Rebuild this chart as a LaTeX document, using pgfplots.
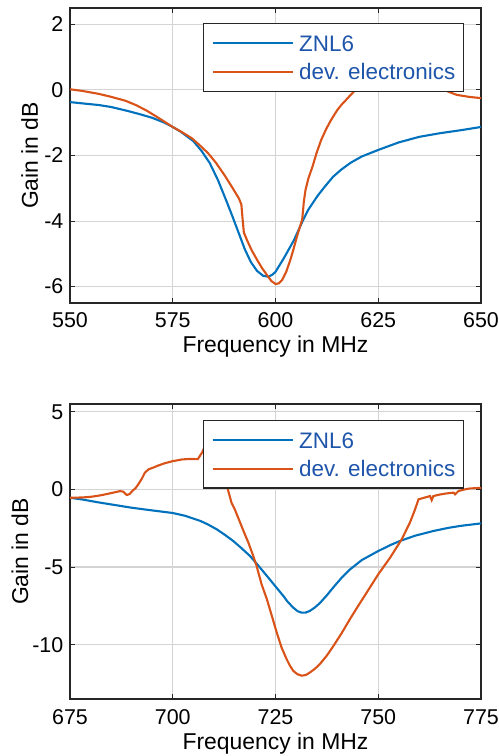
\documentclass[border=0pt]{standalone}
\usepackage{fontspec}
\setmainfont{Liberation Sans}
\usepackage{pgfplots}
\pgfplotsset{compat=1.18}

\definecolor{mblue}{RGB}{0,114,189}
\definecolor{morange}{RGB}{217,83,25}
\definecolor{legtext}{RGB}{30,85,170}
\definecolor{axgray}{RGB}{38,38,38}
\definecolor{gridgray}{RGB}{212,212,212}

\newcommand{\tickfont}{\fontsize{21.5}{26}\selectfont}
\newcommand{\labfont}{\fontsize{23}{28}\selectfont}
\newcommand{\legfont}{\fontsize{22.5}{27}\selectfont}

\pgfplotsset{
 mystyle/.style={
  scale only axis, width=411bp, height=295bp,
  axis line style={axgray, line width=1.2bp},
  tick style={axgray, line width=1bp},
  major tick length=5bp,
  tick align=inside,
  grid=major,
  major grid style={gridgray, line width=1.1bp},
  tick label style={font=\tickfont, text=black},
  xticklabel style={anchor=base, yshift=-25bp},
  yticklabel style={anchor=east, inner sep=0pt, xshift=-6.5bp},
  label style={font=\labfont},
  xlabel style={at={(axis description cs:0.5,0)}, anchor=base, yshift=-50bp},
  legend cell align=left,
  legend image code/.code={\draw[##1] (0bp,0bp) -- (80bp,0bp);},
  legend style={anchor=north east, draw=axgray, line width=1.3bp, fill=white,
    inner xsep=8bp, inner ysep=11.5bp, font=\legfont, text=legtext,
    row sep=12.5bp, column sep=5.5bp,
    nodes={inner sep=0pt, text height=16bp, text depth=0bp}},
 },
 blueline/.style={mblue, line width=2.1bp},
 orangeline/.style={morange, line width=2.1bp},
}

\begin{document}
\begin{tikzpicture}
\useasboundingbox (0,0) rectangle (499bp,756bp);
% ---------------- top axis ----------------
\begin{axis}[mystyle, at={(70bp,453bp)}, anchor=south west,
  xmin=550, xmax=650, ymin=-6.5, ymax=2.5,
  xtick={550,575,600,625,650}, xticklabels={550,575,600,625,650},
  ytick={-6,-4,-2,0,2}, yticklabels={-6,-4,-2,0,2},
  xlabel={Frequency in MHz}, ylabel={Gain in dB},
  ylabel style={at={(axis description cs:-0.0779,0.5)}, anchor=base, rotate=0},
  legend style={at={(0.9586,0.949)}}]
\addplot[blueline] coordinates {
(550,-0.37) (553,-0.41) (557,-0.46) (560,-0.52) (564,-0.64) (567,-0.74)
(570,-0.85) (573,-1.00) (575,-1.13) (577,-1.28) (580,-1.56) (582,-1.86)
(584,-2.23) (586,-2.75) (588,-3.37) (589.5,-3.85) (591,-4.35) (592.5,-4.85)
(594,-5.25) (595.5,-5.52) (597,-5.67) (598.3,-5.70) (599.3,-5.63) (600,-5.55)
(602,-5.14) (604.5,-4.58) (606.6,-4.00) (608,-3.65) (610.3,-3.22) (612,-2.95)
(614,-2.65) (616,-2.43) (618.3,-2.22) (621,-2.03) (625,-1.83) (630,-1.60)
(635,-1.43) (640,-1.32) (645,-1.23) (650,-1.13)
};
\addlegendentry{ZNL6}
\addplot[orangeline] coordinates {
(550,0.02) (553,-0.03) (557,-0.12) (560,-0.21) (563.5,-0.33) (566,-0.46)
(568.5,-0.62) (571,-0.81) (573,-0.97) (575,-1.13) (577,-1.27) (579.6,-1.47)
(581.5,-1.68) (583.6,-1.93) (585.5,-2.22) (587.7,-2.62) (589.5,-2.98)
(591.1,-3.31) (591.7,-3.50) (592.0,-3.95) (592.3,-4.35) (593.2,-4.62)
(594.2,-4.89) (595.5,-5.18) (596.8,-5.45) (598,-5.66) (599,-5.83) (600,-5.92)
(600.8,-5.90) (601.6,-5.80) (602.6,-5.55) (603.6,-5.19) (604.4,-4.85)
(605.2,-4.48) (606,-4.15) (606.5,-3.95) (606.9,-3.40) (607.3,-3.05)
(608,-2.70) (609,-2.34) (610,-1.92) (611.1,-1.53) (612.3,-1.20) (613.5,-0.92)
(615,-0.62) (616,-0.46) (617.2,-0.30) (618.3,-0.15) (620,0.07) (622,0.32)
(625,0.55) (628,0.68) (631,0.65) (634,0.50) (637,0.32) (640.4,0.07)
(642,-0.05) (644.1,-0.15) (647,-0.21) (650,-0.25)
};
\addlegendentry{dev. electronics}
\end{axis}
% ---------------- bottom axis ----------------
\begin{axis}[mystyle, at={(70bp,57bp)}, anchor=south west,
  xmin=675, xmax=775, ymin=-13.5, ymax=5.5,
  xtick={675,700,725,750,775}, xticklabels={675,700,725,750,775},
  ytick={-10,-5,0,5}, yticklabels={-10,-5,0,5},
  xlabel={Frequency in MHz}, ylabel={Gain in dB},
  ylabel style={at={(axis description cs:-0.102,0.5)}, anchor=base, rotate=0},
  legend style={at={(0.9586,0.946)}}]
\addplot[blueline] coordinates {
(675,-0.54) (678,-0.65) (682,-0.84) (686,-1.01) (690,-1.18) (694,-1.32)
(697,-1.42) (700,-1.52) (703,-1.70) (706.6,-2.02) (708.5,-2.25) (710.7,-2.57)
(712.7,-2.93) (714.7,-3.32) (716.7,-3.78) (718.8,-4.29) (720.8,-4.90)
(722.9,-5.57) (725,-6.25) (726.9,-6.86) (728,-7.25) (729.3,-7.61)
(730.4,-7.85) (731.4,-7.94) (732.4,-7.93) (733.4,-7.82) (734.6,-7.60)
(735.8,-7.32) (737.5,-6.82) (739.1,-6.30) (741,-5.72) (743.1,-5.16)
(746,-4.55) (750,-3.97) (753,-3.58) (755.3,-3.32) (759,-2.98) (763.4,-2.68)
(767,-2.48) (770,-2.35) (775,-2.19)
};
\addlegendentry{ZNL6}
\addplot[orangeline] coordinates {
(675,-0.54) (678,-0.52) (680.3,-0.47) (682.5,-0.38) (684.3,-0.28) (686,-0.18)
(687.2,-0.11) (688,-0.15) (688.8,-0.36) (689.5,-0.30) (690,-0.15) (691,0.10)
(691.6,0.32) (692.5,0.70) (693.2,1.07) (694.1,1.29) (695.5,1.43) (696.5,1.54)
(698,1.68) (700,1.82) (702.3,1.93) (704,1.96) (706.1,1.95) (707.1,2.36)
(707.9,2.79) (709,3.4) (710,3.8) (711,3.6) (712,2.0) (713.0,0.39)
(714.3,-0.86) (715.1,-1.29) (716.4,-2.14) (717.4,-2.80) (718.4,-3.43)
(719.4,-4.15) (720.4,-4.93) (721.6,-6.10) (722.9,-7.07) (724,-8.05)
(725.3,-9.22) (726.5,-10.2) (727.7,-10.93) (728.5,-11.35) (729.3,-11.68)
(730.3,-11.90) (731.4,-12.00) (732.4,-11.95) (733.4,-11.79) (734.6,-11.55)
(735.8,-11.25) (737.5,-10.70) (739.1,-10.08) (741,-9.30) (743.1,-8.36)
(745,-7.55) (747.2,-6.64) (750,-5.47) (752.9,-4.39) (755.7,-3.22)
(757.7,-2.14) (758.8,-1.40) (759.8,-0.64) (761,-0.55) (762.6,-0.43)
(763,-0.69) (763.4,-0.43) (765,-0.33) (766.6,-0.26) (768.3,-0.21)
(768.7,-0.32) (769.5,-0.11) (771,0.00) (772.3,0.06) (775,0.10)
};
\addlegendentry{dev. electronics}
\end{axis}
\end{tikzpicture}
\end{document}
